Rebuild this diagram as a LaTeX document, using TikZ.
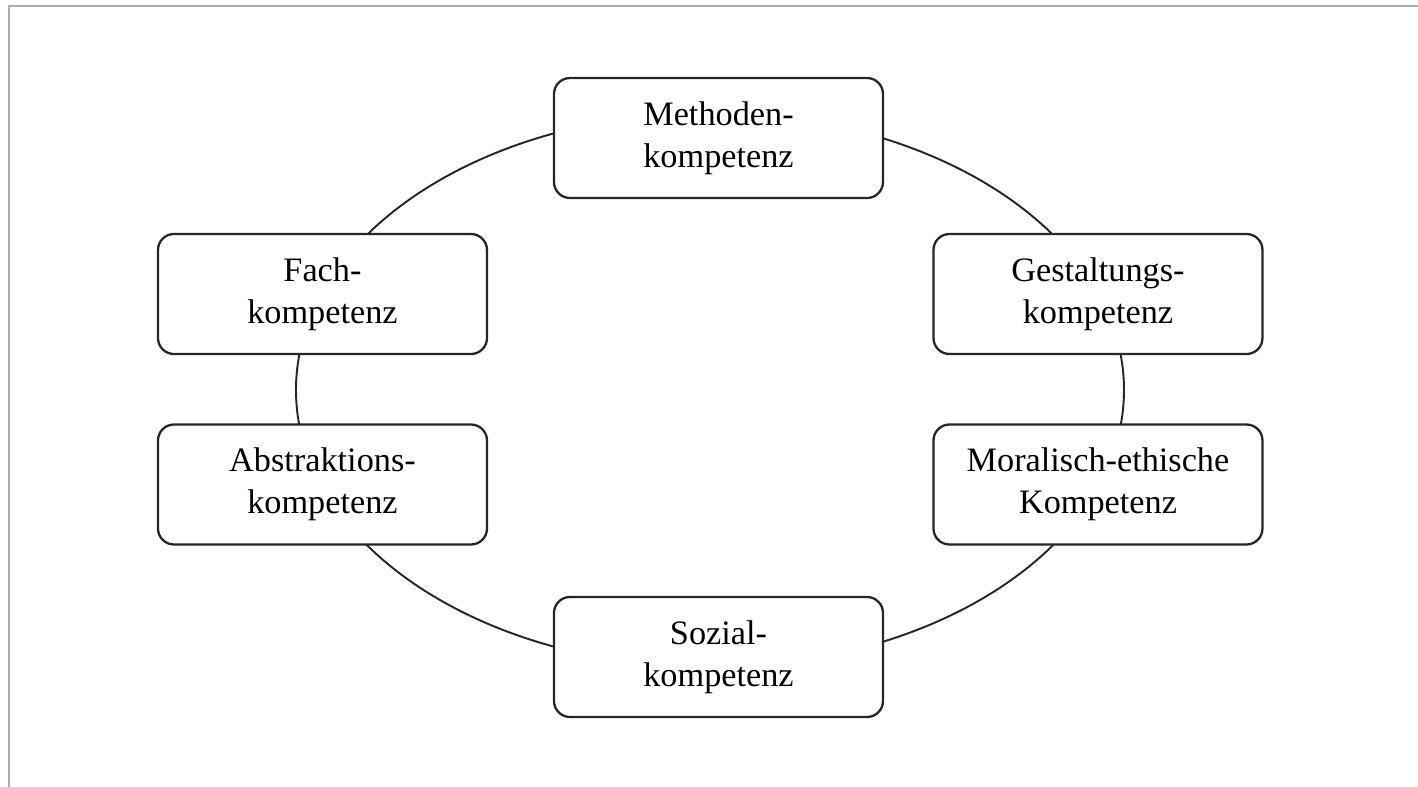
\documentclass[tikz,border=0pt]{standalone}
\usepackage{fontspec}
\setmainfont{Liberation Serif}
\begin{document}
\begin{tikzpicture}[font=\fontsize{19.5}{24}\selectfont,
	kbox/.style={draw=black!85,line width=1.3pt,rounded corners=0.32cm,fill=white,align=center,minimum width=6.58cm,minimum height=2.4cm,inner sep=0pt}]
	%\draw[step=1,gray!20] (-14,-8) grid (14,8); %grid
	\useasboundingbox (-14.2,-7.92) rectangle (14.16,7.8);
	\draw[gray!65,line width=1.5pt] (-14.02,-7.95) -- (-14.02,7.68) -- (14.2,7.68);
	\draw[black!85,line width=1.1pt] (0,0) ellipse (8.28 and 5.54);
	\node[kbox] (meth) at (0.17,5.04) {Methoden-\\kompetenz};
	\node[kbox] (fach) at (-7.75,1.92) {Fach-\\kompetenz};
	\node[kbox] (abstr) at (-7.75,-1.89) {Abstraktions-\\kompetenz};
	\node[kbox] (gest) at (7.76,1.92) {Gestaltungs-\\kompetenz};
	\node[kbox] (moral) at (7.76,-1.89) {Moralisch-ethische\\Kompetenz};
	\node[kbox] (sozial) at (0.17,-5.34) {Sozial-\\kompetenz};
\end{tikzpicture}
\end{document}
